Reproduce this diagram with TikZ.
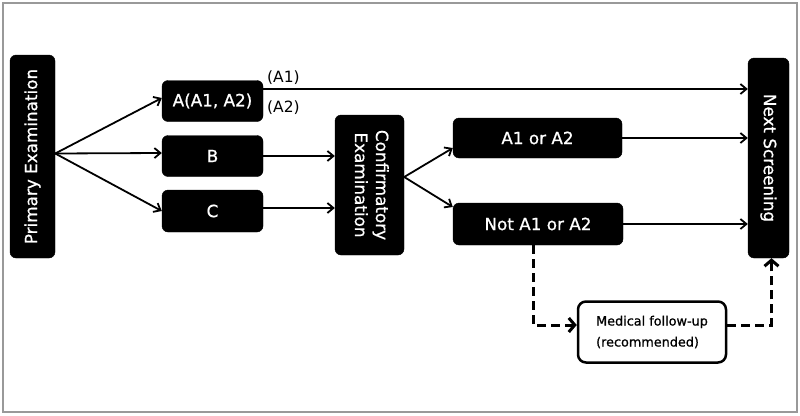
\documentclass[tikz,border=0pt]{standalone}
\usepackage{fontspec}
\setmainfont{DejaVu Sans}
\newfontfamily\medfont{DejaVu Sans}[FakeBold=0.8]
\usetikzlibrary{arrows.meta,calc}
\begin{document}
\begin{tikzpicture}[x=1pt,y=-1pt,
  blk/.style={fill=black,draw=black,rounded corners=6pt,text=white,inner sep=0pt,
    font=\medfont\fontsize{16.8}{20}\selectfont},
  arr/.style={line width=1.8pt,-{Straight Barb[length=6pt,width=10pt,line width=1.8pt]}},
  darr/.style={line width=3pt,dash pattern=on 9pt off 5pt,
    -{Straight Barb[length=6pt,width=14pt,line width=3pt]}},
  lbl/.style={font=\fontsize{15.5}{18}\selectfont,inner sep=0pt,anchor=west}]
\useasboundingbox (0,0) rectangle (800,415);
\draw[gray!80,line width=2pt] (2.5,2.5) rectangle (797,412);
% nodes
\node[blk,minimum width=45pt,minimum height=203pt] (prim) at (32.5,156.5) {\rotatebox{90}{Primary Examination}};
\node[blk,minimum width=101pt,minimum height=41pt] (a) at (212.5,101) {A(A1, A2)};
\node[blk,minimum width=101pt,minimum height=41pt] (b) at (212.5,156) {B};
\node[blk,minimum width=101pt,minimum height=42pt] (c) at (212.5,211) {C};
\node[blk,minimum width=69pt,minimum height=140pt] (conf) at (369.5,185)
  {\rotatebox{-90}{\begin{tabular}{@{}c@{}}Confirmatory\\[1pt]Examination\end{tabular}}};
\node[blk,minimum width=169pt,minimum height=40pt] (aor) at (537.5,138) {A1 or A2};
\node[blk,minimum width=170pt,minimum height=42pt] (nota) at (538,224) {Not A1 or A2};
\node[blk,minimum width=41pt,minimum height=200pt] (next) at (768.5,158) {\rotatebox{-90}{Next Screening}};
\node[draw=black,line width=2.5pt,rounded corners=8pt,fill=white,minimum width=148pt,minimum height=61pt,
  inner sep=0pt,align=left,font=\medfont\fontsize{12.8}{21}\selectfont] (med) at (652,332)
  {Medical follow-up\\(recommended)};
% labels
\node[lbl] (l1) at (267,78) {(A1)};
\node[lbl] (l2) at (267,108) {(A2)};
% arrows
\draw[arr] ([yshift=3pt]prim.east) -- ([yshift=3pt]a.west);
\draw[arr] ([yshift=3pt]prim.east) -- ([yshift=3pt]b.west);
\draw[arr] ([yshift=3pt]prim.east) -- (c.west);
\draw[arr] ([yshift=12pt]a.east) -- ([yshift=12pt]a.east -| next.west);
\draw[arr] (b.east) -- (b.east -| conf.west);
\draw[arr] ([yshift=3pt]c.east) -- ([yshift=3pt]c.east -| conf.west);
\draw[arr] ([yshift=8pt]conf.east) -- ([yshift=-10pt]aor.west);
\draw[arr] ([yshift=8pt]conf.east) -- ([yshift=17pt]nota.west);
\draw[arr] (aor.east) -- (aor.east -| next.west);
\draw[arr] (nota.east) -- (nota.east -| next.west);
\draw[darr] ([xshift=-5pt]nota.south) |- ([yshift=7pt]med.west);
\draw[darr] ([yshift=7pt]med.east) -| ([xshift=3pt]next.south);
\end{tikzpicture}
\end{document}
